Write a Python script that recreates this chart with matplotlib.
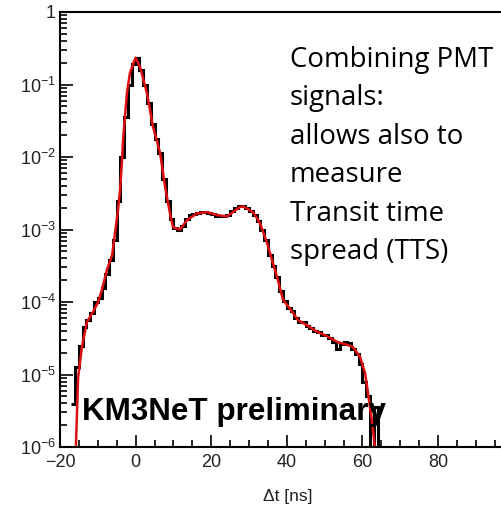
import numpy as np
import matplotlib
matplotlib.use("Agg")
import matplotlib.pyplot as plt
from matplotlib.ticker import MultipleLocator, LogLocator, NullFormatter, FuncFormatter

# Histogram: bin edges (ns) and log10 of bin contents
bin_edges = list(range(-17, 66))
hist_log10 = [-5.4, -4.9, -4.6, -4.35, -4.25, -4.15, -4.0, -3.95, -3.8, -3.62,
              -3.42, -3.15, -2.6, -2.0, -1.45, -1.0, -0.72, -0.63, -0.80, -1.0,
              -1.25, -1.55, -1.75, -1.95, -2.3, -2.6, -2.85, -2.98, -3.0, -2.95,
              -2.86, -2.8, -2.78, -2.77, -2.76, -2.76, -2.77, -2.79, -2.81, -2.82,
              -2.82, -2.80, -2.75, -2.70, -2.68, -2.68, -2.71, -2.74, -2.80, -2.88,
              -3.0, -3.15, -3.35, -3.5, -3.65, -3.85, -3.98, -4.08, -4.12, -4.22,
              -4.27, -4.28, -4.33, -4.36, -4.40, -4.42, -4.45, -4.46, -4.50, -4.55,
              -4.65, -4.58, -4.55, -4.57, -4.65, -4.72, -4.85, -5.1, -5.3, -7.0,
              -5.45, -7.0]

# Fit curve points (ns, log10 value)
fit_t = [-15.8, -15.2, -14.2, -12.9, -11.3, -10.0, -8.9, -7.6, -6.2, -4.7, -4.1,
         -3.6, -3.3, -2.3, -1.5, -0.4, 0.0, 1.2, 3.0, 4.6, 6.5, 7.8, 9.1, 9.9,
         11.75, 13.6, 16.2, 18.9, 21.5, 24.2, 27.6, 28.4, 31.1, 32.9, 34.8, 36.3,
         37.4, 39.0, 40.8, 43.0, 45.3, 48.0, 50.6, 53.3, 55.9, 57.5, 59.4, 60.7,
         61.5, 62.5, 63.3]
fit_log10 = [-6.0, -5.04, -4.62, -4.28, -4.14, -4.01, -3.83, -3.56, -3.35, -2.75,
             -2.45, -2.05, -1.75, -1.12, -0.84, -0.68, -0.63, -0.76, -1.12, -1.58,
             -1.95, -2.41, -2.78, -2.97, -3.0, -2.87, -2.78, -2.76, -2.80, -2.82,
             -2.69, -2.68, -2.76, -2.91, -3.19, -3.46, -3.65, -3.97, -4.09, -4.25,
             -4.32, -4.41, -4.47, -4.55, -4.59, -4.62, -4.76, -4.98, -5.26, -5.63,
             -6.0]

note_lines = ['Combining PMT', 'signals:', 'allows also to', 'measure',
              'Transit time', 'spread (TTS)']
watermark = 'KM3NeT preliminary'
x_label = 'Δt [ns]'

hist_vals = 10.0 ** np.array(hist_log10)
fit_vals = 10.0 ** np.array(fit_log10)

plt.rcParams['font.family'] = ['Liberation Sans', 'DejaVu Sans']
plt.rcParams['mathtext.fontset'] = 'custom'
plt.rcParams['mathtext.rm'] = 'Liberation Sans'
plt.rcParams['mathtext.it'] = 'Liberation Sans:italic'

W, H = 502, 508
fig = plt.figure(figsize=(W/100, H/100), dpi=100)
ax = fig.add_axes([60/W, 61/H, 453.6/W, 435/H])

ax.stairs(hist_vals, bin_edges, color='black', lw=2.2, baseline=None)
ax.plot(fit_t, fit_vals, color='#e01010', lw=1.8)

ax.set_yscale('log')
ax.set_xlim(-20, 100)
ax.set_ylim(1e-6, 1)

def yfmt(v, pos):
    e = int(round(np.log10(v)))
    if e == 0:
        return '1'
    return r'$10^{%d}$' % e

def xfmt(v, pos):
    if v > 90:
        return ''
    return '%d' % v if v >= 0 else '\u2212%d' % (-v)

ax.xaxis.set_major_locator(MultipleLocator(20))
ax.xaxis.set_minor_locator(MultipleLocator(5))
ax.xaxis.set_major_formatter(FuncFormatter(xfmt))
ax.yaxis.set_major_locator(LogLocator(base=10, numticks=10))
ax.yaxis.set_major_formatter(FuncFormatter(yfmt))
ax.yaxis.set_minor_locator(LogLocator(base=10, subs=np.arange(2, 10), numticks=20))
ax.yaxis.set_minor_formatter(NullFormatter())
ax.tick_params(which='both', direction='in', colors='black', labelcolor='#222222',
               labelsize=13, width=1.2)
ax.tick_params(which='major', length=9)
ax.tick_params(which='minor', length=5)
ax.tick_params(axis='x', pad=5)
ax.tick_params(axis='y', pad=3)
for s in ax.spines.values():
    s.set_linewidth(1.5)

fig.text(288/W, 1 - 496/H, x_label, fontsize=12.5, color='#222222',
         ha='center', va='center')

renderer = fig.canvas.get_renderer()

def fit_width(t, target_px):
    bb = t.get_window_extent(renderer)
    t.set_fontsize(t.get_fontsize() * target_px / bb.width)

wm = fig.text(82/W, 1 - 420/H, watermark, fontsize=22,
              fontweight='bold', ha='left', va='baseline', color='black')
fit_width(wm, 303)

# note lines, baselines spaced ~38.4 px, first baseline at y=67 px from top
for i, line in enumerate(note_lines):
    t = fig.text(290/W, 1 - (67 + 38.4 * i)/H, line, fontsize=20, family='Open Sans',
                 ha='left', va='baseline', color='black')
    if i == 0:
        fit_width(t, 203)
        note_fs = t.get_fontsize()
    else:
        t.set_fontsize(note_fs)

fig.savefig('out.png', dpi=100)
